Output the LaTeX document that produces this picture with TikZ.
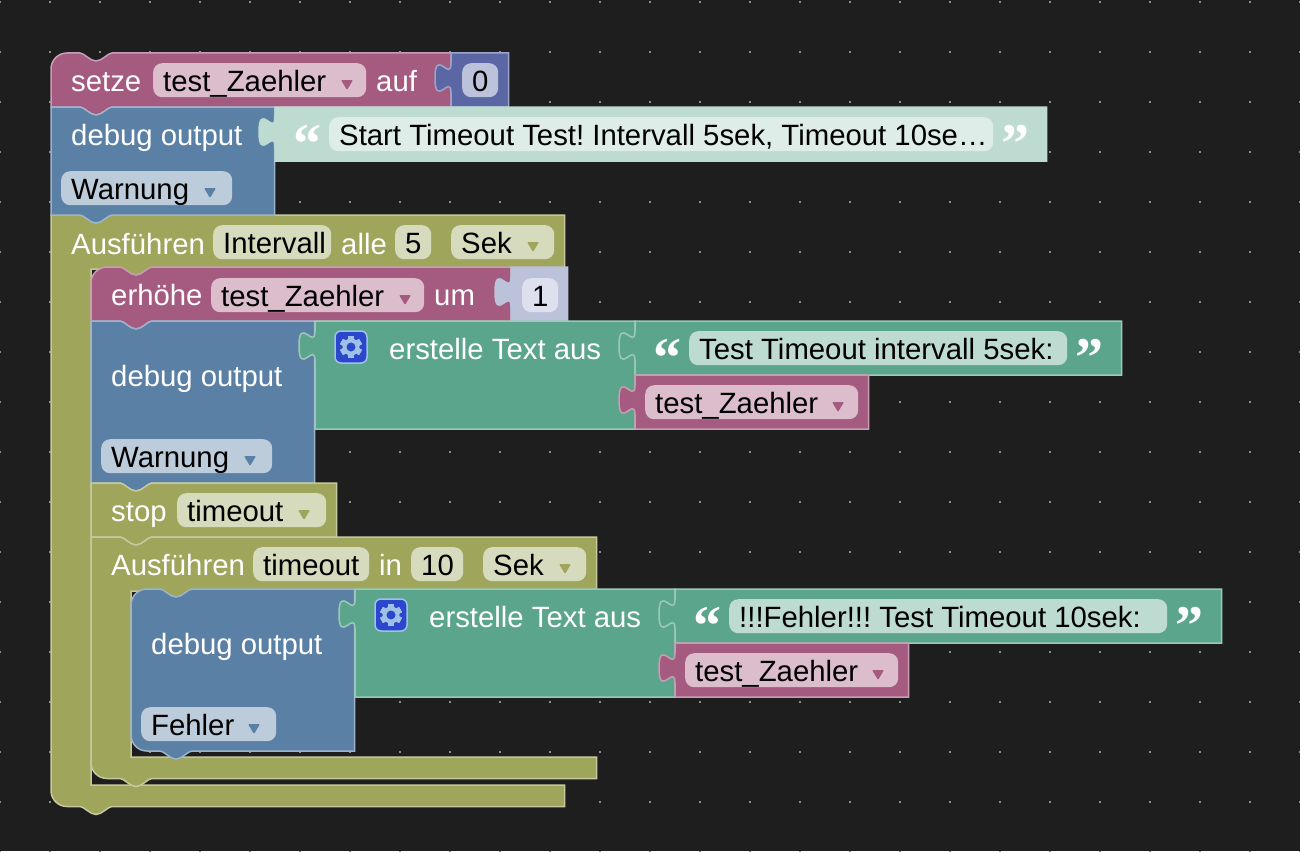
\documentclass[tikz,border=0pt]{standalone}
\usepackage{fontspec}
\setmainfont{Liberation Sans}
\newfontfamily\quotefont{Liberation Serif}[BoldFont={Liberation Serif Bold}]
\usetikzlibrary{positioning}
\frenchspacing

\definecolor{canvas}{HTML}{1E1E1E}
\definecolor{griddot}{HTML}{8C8C8C}
\definecolor{pinkfill}{HTML}{A55B80}
\definecolor{pinkline}{HTML}{C99DB3}
\definecolor{pinkfield}{HTML}{DBBDCC}
\definecolor{bluefill}{HTML}{5B80A5}
\definecolor{blueline}{HTML}{9DB3C9}
\definecolor{bluefield}{HTML}{BDCCDB}
\definecolor{olivefill}{HTML}{9FA55B}
\definecolor{oliveline}{HTML}{C5C99D}
\definecolor{olivefield}{HTML}{D7DBBD}
\definecolor{tealfill}{HTML}{5BA58C}
\definecolor{tealline}{HTML}{9DC9BA}
\definecolor{tealfield}{HTML}{BDDBD1}
\definecolor{indigofill}{HTML}{5B67A5}
\definecolor{indigoline}{HTML}{9DA4C9}
\definecolor{indigofield}{HTML}{BDC2DB}
\definecolor{palefill}{HTML}{BDDBD1}
\definecolor{palefield}{HTML}{DEEDE8}
\definecolor{palerfield}{HTML}{DEE0ED}
\definecolor{gearblue}{HTML}{2A47CE}
\definecolor{gearline}{HTML}{9FC1E6}

\tikzset{
    pinkblock/.style={fill=pinkfill, draw=pinkline, line width=1.5pt},
    blueblock/.style={fill=bluefill, draw=blueline, line width=1.5pt},
    oliveblock/.style={fill=olivefill, draw=oliveline, line width=1.5pt},
    tealblock/.style={fill=tealfill, draw=tealline, line width=1.5pt},
    indigoblock/.style={fill=indigofill, draw=indigoline, line width=1.5pt},
    paleblock/.style={fill=palefill, draw=palefill, line width=1.5pt},
    shadeblock/.style={fill=indigofield, draw=indigofield, line width=1.5pt},
    blocktext/.style={anchor=base west, inner sep=0pt, text=white, font=\fontsize{29.33}{32}\selectfont},
    fieldbox/.style={anchor=north west, inner xsep=10pt, inner ysep=0pt, rounded corners=9pt,
        text=black, text height=28pt, text depth=6pt, font=\fontsize{29.33}{32}\selectfont},
    quotemark/.style={anchor=base west, inner sep=0pt, text=white, font=\quotefont\bfseries\fontsize{56}{60}\selectfont},
    gearbox/.style={fill=gearblue, draw=gearline, line width=1.5pt, rounded corners=6pt, minimum size=32pt, inner sep=0pt}
}

% notch on top, tab below: x y width height top-radius bottom-radius
\newcommand{\stackblock}[7]{
    \draw[#1, shift={(#2,#3)}] (0,20) [rounded corners=#6] -- (0,0) [sharp corners] -- (29,0)
        .. controls (33,0) and (39,8) .. (45,8) .. controls (51,8) and (57,0) .. (61,0)
        -- (#4,0) -- (#4,#5) -- (61,#5)
        .. controls (57,#5) and (51,#5+8) .. (45,#5+8) .. controls (39,#5+8) and (33,#5) .. (29,#5)
        [rounded corners=#7] -- (0,#5) [sharp corners] -- cycle;
}
% C shaped block: x y width inner-bottom
\newcommand{\loopblock}[5]{
    \draw[#1, shift={(#2,#3)}] (0,20) -- (0,0) -- (29,0)
        .. controls (33,0) and (39,8) .. (45,8) .. controls (51,8) and (57,0) .. (61,0)
        -- (#4,0) -- (#4,54) -- (101,54)
        .. controls (97,54) and (91,60) .. (85,60) .. controls (79,60) and (73,54) .. (69,54)
        -- (40,54) -- (40,#5) -- (#4,#5) -- (#4,#5+21.5) -- (61,#5+21.5)
        .. controls (57,#5+21.5) and (51,#5+29.5) .. (45,#5+29.5) .. controls (39,#5+29.5) and (33,#5+21.5) .. (29,#5+21.5)
        [rounded corners=16pt] -- (0,#5+21.5) [sharp corners] -- cycle;
}
% puzzle tab on the left: x y width height
\newcommand{\valueblock}[5]{
    \draw[#1, shift={(#2,#3)}] (0,0) -- (#4,0) -- (#4,#5) -- (0,#5) -- (0,40)
        .. controls (0,20) and (-16,56) .. (-16,25) .. controls (-16,-6) and (0,30) .. (0,10) -- cycle;
}
% fill name x y width text
\newcommand{\field}[6]{
    \node[fieldbox, fill=#1] (#2) at (#3,#4) {\makebox[\dimexpr#5pt-20pt\relax][l]{#6}};
}
% the same, with the small arrow: arrow colour and its middle last
\newcommand{\dropfield}[8]{
    \field{#1}{#2}{#3}{#4}{#5}{#6}
    \fill[#7, rounded corners=1pt] (#8-6,{#4+17}) -- (#8+6,{#4+17}) -- (#8,{#4+27}) -- cycle;
}
\newcommand{\gearicon}[3]{
    \node[gearbox] (#1) at (#2,#3) {};
    \foreach \a in {0,60,...,300}
        \fill[gearline, rotate around={\a:(#2,#3)}] (#2-3,#3-11) rectangle (#2+3,#3+11);
    \fill[gearline] (#2,#3) circle (8.5pt);
    \fill[gearblue] (#2,#3) circle (4.5pt);
}

\begin{document}
\begin{tikzpicture}[x=1pt, y=-1pt]
    \fill[canvas] (0,0) rectangle (1300,851);
    \useasboundingbox (0,0) rectangle (1300,851);

    % Grid
    \foreach \gx in {0,50,...,1300}
        \foreach \gy in {2,52,...,852}
            \fill[griddot] (\gx-1,\gy-1) rectangle (\gx+1,\gy+1);

    % Outer loop goes first, everything else sits on it
    \loopblock{oliveblock}{51}{215}{513.5}{570}
    \node[blocktext] (runA) at (71,254) {Ausführen};
    \field{olivefield}{nameA}{213}{225}{118}{Intervall}
    \node[blocktext] (everyA) at (341,254) {alle};
    \field{olivefield}{timeA}{395}{225}{36}{5}
    \dropfield{olivefield}{unitA}{451}{225}{103}{Sek}{olivefill}{533}

    % Set counter
    \stackblock{pinkblock}{51}{53}{400}{54}{16pt}{0pt}
    \node[blocktext] (setLabel) at (71,91) {setze};
    \dropfield{pinkfield}{setVar}{153}{63}{213}{test\_Zaehler}{pinkfill}{347}
    \node[blocktext] (setTo) at (376,91) {auf};
    \valueblock{indigoblock}{451}{53}{57.5}{54}
    \field{indigofield}{setNum}{462}{63}{36}{0}

    % First debug output
    \stackblock{blueblock}{51}{107}{223.5}{108}{0pt}{0pt}
    \node[blocktext] (debugA) at (71,145) {debug output};
    \dropfield{bluefield}{levelA}{61}{171}{171}{Warnung}{bluefill}{210}
    \valueblock{paleblock}{275}{107}{771.5}{54}
    \node[quotemark] (openA) at (293,162) {“};
    \field{palefield}{textA}{329}{117}{664}{Start Timeout Test! Intervall 5sek, Timeout 10se…}
    \node[quotemark] (closeA) at (1001,162) {”};

    % Increase counter
    \stackblock{pinkblock}{91}{267}{420}{54}{16pt}{0pt}
    \node[blocktext] (incLabel) at (111,305) {erhöhe};
    \dropfield{pinkfield}{incVar}{211}{278}{213}{test\_Zaehler}{pinkfill}{405}
    \node[blocktext] (incBy) at (434,305) {um};
    \valueblock{shadeblock}{511}{267}{56.5}{54}
    \field{palerfield}{incNum}{522}{278}{36}{1}

    % Second debug output
    \stackblock{blueblock}{91}{321}{223.5}{162}{0pt}{0pt}
    \node[blocktext] (debugB) at (111,386) {debug output};
    \dropfield{bluefield}{levelB}{101}{439}{171}{Warnung}{bluefill}{250}
    \valueblock{tealblock}{315}{321}{320}{108}
    \gearicon{gearB}{351}{347}
    \node[blocktext] (joinB) at (389,359) {erstelle Text aus};
    \valueblock{tealblock}{635}{321}{486.5}{54}
    \node[quotemark] (openB) at (653,376) {“};
    \field{tealfield}{textB}{689}{331}{378}{Test Timeout intervall 5sek:}
    \node[quotemark] (closeB) at (1075,376) {”};
    \valueblock{pinkblock}{635}{375}{233.5}{54}
    \dropfield{pinkfield}{varB}{645}{385}{213}{test\_Zaehler}{pinkfill}{838}

    % Stop
    \stackblock{oliveblock}{91}{483}{245.5}{54}{0pt}{0pt}
    \node[blocktext] (stopLabel) at (111,521) {stop};
    \dropfield{olivefield}{stopName}{177}{493}{149}{timeout}{olivefill}{304}

    % Inner loop
    \loopblock{oliveblock}{91}{537}{505.5}{220}
    \node[blocktext] (runC) at (111,575) {Ausführen};
    \field{olivefield}{nameC}{253}{547}{116}{timeout}
    \node[blocktext] (inC) at (379,575) {in};
    \field{olivefield}{timeC}{411}{547}{52}{10}
    \dropfield{olivefield}{unitC}{483}{547}{103}{Sek}{olivefill}{565}

    % Third debug output
    \stackblock{blueblock}{131}{589}{223.5}{162}{16pt}{16pt}
    \node[blocktext] (debugC) at (151,654) {debug output};
    \dropfield{bluefield}{levelC}{141}{707}{135}{Fehler}{bluefill}{254}
    \valueblock{tealblock}{355}{589}{320}{108}
    \gearicon{gearC}{391}{615}
    \node[blocktext] (joinC) at (429,627) {erstelle Text aus};
    \valueblock{tealblock}{675}{589}{546.5}{54}
    \node[quotemark] (openC) at (693,644) {“};
    \field{tealfield}{textC}{729}{599}{438}{!!!Fehler!!! Test Timeout 10sek: }
    \node[quotemark] (closeC) at (1175,644) {”};
    \valueblock{pinkblock}{675}{643}{233.5}{54}
    \dropfield{pinkfield}{varC}{685}{653}{213}{test\_Zaehler}{pinkfill}{878}
\end{tikzpicture}
\end{document}
